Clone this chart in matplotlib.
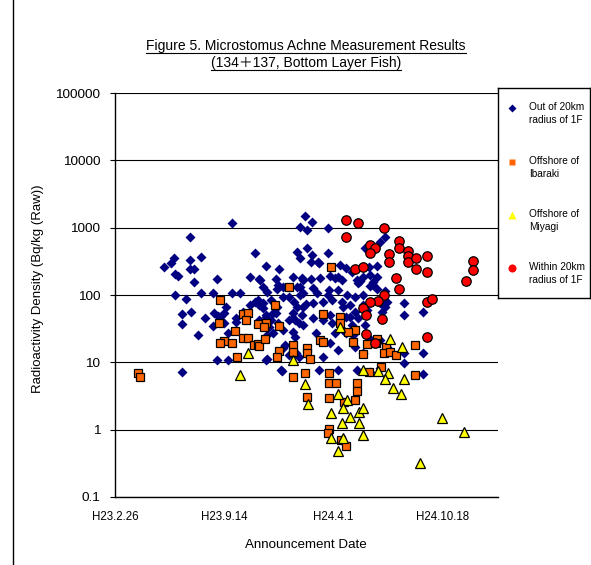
import numpy as np
import matplotlib
matplotlib.use('Agg')
import matplotlib.pyplot as plt
from matplotlib.lines import Line2D
from matplotlib.ticker import NullLocator

plt.rcParams['font.family'] = ['Liberation Sans', 'Noto Sans CJK JP', 'DejaVu Sans']

# ---------------- data ----------------
base_date = np.datetime64('2011-02-26')
tick_dates = ['2011-02-26', '2011-09-14', '2012-04-01', '2012-10-18']
tick_labels = ['H23.2.26', 'H23.9.14', 'H24.4.1', 'H24.10.18']
y_ticks = [0.1, 1, 10, 100, 1000, 10000, 100000]
y_tick_labels = ['0.1', '1', '10', '100', '1000', '10000', '100000']

series_names = ['Out of 20km\nradius of 1F', 'Offshore of\nIbaraki',
                'Offshore of\nMiyagi', 'Within 20km\nradius of 1F']

# Out of 20km radius of 1F (days after base date, Bq/kg)
out20_days = [89, 102, 108, 110, 115, 137, 137, 137, 144, 157, 144, 110, 130, 157, 139, 122, 122, 151, 122,
              186, 214, 179, 214, 228, 164, 179, 199, 193, 188, 199, 203, 206, 181, 221, 235, 248, 248, 256, 186, 206, 221,
              277, 305, 270, 297, 277, 301, 263, 334, 338, 334, 339, 325, 330, 336, 325, 308, 297, 290, 285, 279, 290,
              261, 263, 270, 276, 299, 330, 312, 318, 332, 307, 266, 294, 299, 279, 307, 325, 257, 270, 285, 318, 327,
              334, 294, 276, 318, 263, 281, 307, 325, 279, 336, 303, 339,
              347, 352, 361, 389, 352, 345, 345, 361, 358, 389, 372, 343, 358, 376, 394, 403, 345, 370, 389, 349, 363,
              380, 398, 343, 363, 381, 394, 345, 398, 367, 403, 374, 363, 392, 409, 339, 409, 394, 409, 381, 374, 409,
              412, 422, 434, 416, 453, 467, 445, 467, 473, 416, 431, 453, 418, 440, 422, 434, 418, 458, 485, 495, 465,
              480, 443, 480, 480, 425, 440, 453, 431, 445, 462, 458, 485, 489, 495, 529, 529, 564, 422, 436, 440, 464,
              454, 485, 498, 529, 529, 564, 564, 443, 467, 485, 495, 498, 473, 449]
out20_vals = [262, 300, 356, 206, 193, 731, 333, 245, 245, 369, 157, 101, 88, 108, 56, 53, 37, 25.7, 7.3,
              174, 1178, 108, 108, 108, 46, 35, 54, 47.5, 49, 39, 67, 27.5, 54, 46, 56, 72, 186, 423, 10.9, 10.9, 40,
              10.9, 7.5, 132, 124, 271, 245, 174, 438, 356, 132, 101, 54, 43, 39, 46, 94, 67, 54, 43, 25.7, 27.5,
              85, 72, 65, 47.5, 39, 24, 18.2, 13, 13.9, 16.5, 168, 174, 142, 112, 132, 186, 79, 77, 85, 94, 79,
              67, 54, 51, 43, 43, 34, 30, 28.4, 11.3, 12.1, 7.8, 1028,
              1497, 927, 1219, 993, 501, 168, 67, 395, 311, 423, 311, 180, 174, 180, 193, 180, 108, 108, 101, 74, 77,
              79, 85, 51, 46, 43, 51, 36, 39, 27.5, 27.5, 300, 128, 119, 119, 132, 186, 19.5, 15.4, 12.1, 7.8, 7.8,
              281, 253, 221, 168, 186, 199, 152, 137, 157, 79, 72, 72, 67, 56, 47.5, 36, 30, 501, 616, 731, 262,
              271, 168, 186, 124, 101, 94, 101, 47.5, 46, 60, 36, 77, 56, 67, 77, 51, 56, 27.5, 25.7, 17, 23.2,
              13.9, 21.6, 17, 13.9, 9.9, 13.9, 6.8, 7.8, 7.3, 8.3, 115, 79, 142, 162]

# Offshore of Ibaraki
ibaraki_days = [42, 46, 192, 190, 219, 199, 192, 214, 223, 235, 243, 254, 234, 243, 239, 261, 277, 272, 301, 261,
                263, 274, 301, 296, 325, 325, 325, 347, 352, 352, 356, 352, 319, 292, 396, 381, 412, 412, 440, 427,
                376, 381, 436, 480, 462, 478, 496, 493, 504, 515, 453, 549, 487, 464, 549, 391, 391, 405, 391, 440,
                420, 443, 443, 392, 389, 414, 422]
ibaraki_vals = [7.0, 6.1, 85, 39, 29.4, 20.9, 19.5, 19.5, 12.1, 23.2, 23.2, 18.2, 53, 54, 43, 37, 39, 34, 35, 18.9,
                17.6, 22.4, 14.9, 12.1, 18.2, 14.4, 6.1, 7.0, 16.5, 13.9, 11.3, 3.1, 132, 72, 262, 53, 47.5, 39, 30, 28.4,
                21.6, 20.2, 20.2, 22.4, 18.9, 19.5, 17, 13.9, 14.4, 13, 13.4, 18.2, 8.6, 7.3, 6.5, 7.0, 5.0, 5.0, 3.0, 2.8,
                2.6, 5.0, 3.8, 1.03, 0.90, 0.71, 0.58]

# Offshore of Miyagi
miyagi_days = [243, 228, 325, 347, 354, 411, 504, 526, 453, 482, 500, 495, 529, 509, 524, 409, 425, 418, 447, 453,
               396, 431, 416, 447, 453, 396, 418, 409, 599, 639, 558]
miyagi_vals = [13.9, 6.5, 10.9, 4.8, 2.4, 34, 22.4, 17, 7.8, 7.5, 7.0, 5.7, 5.7, 4.1, 3.4, 3.4, 2.8, 2.1, 1.85, 2.1,
               1.79, 1.56, 1.27, 1.27, 0.84, 0.76, 0.74, 0.49, 1.51, 0.93, 0.32]

# Within 20km radius of 1F
within20_days = [423, 445, 423, 493, 520, 520, 467, 475, 467, 502, 502, 537, 537, 537, 551, 551, 571, 571, 655, 655,
                 642, 515, 520, 493, 482, 467, 453, 460, 489, 440, 453, 571, 580, 460, 475, 571]
within20_vals = [1306, 1178, 731, 993, 637, 501, 556, 501, 423, 409, 311, 453, 382, 311, 356, 245, 382, 221, 322, 237,
                 162, 180, 124, 101, 82, 79, 65, 51, 44, 245, 262, 79, 88, 26.6, 19.5, 24]

# ---------------- figure ----------------
W, H = 591, 565
fig = plt.figure(figsize=(W / 100, H / 100), dpi=100)
fig.patch.set_facecolor('white')

ax = fig.add_axes([115 / W, 1 - 497 / H, (498 - 115) / W, (497 - 93) / H])


def to_dates(days):
    return base_date + np.array(days).astype('timedelta64[D]')


ax.plot(to_dates(out20_days), out20_vals, linestyle='none', marker='D', ms=4.6,
        color='#000080', mec='none', zorder=3, clip_on=False)
ax.plot(to_dates(ibaraki_days), ibaraki_vals, linestyle='none', marker='s', ms=6.0,
        mfc='#FF6600', mec='black', mew=0.9, zorder=4, clip_on=False)
ax.plot(to_dates(miyagi_days), miyagi_vals, linestyle='none', marker='^', ms=6.8,
        mfc='#FFFF00', mec='black', mew=0.9, zorder=5, clip_on=False)
ax.plot(to_dates(within20_days), within20_vals, linestyle='none', marker='o', ms=6.8,
        mfc='#FF0000', mec='black', mew=0.9, zorder=6, clip_on=False)

ax.set_yscale('log')
ax.set_ylim(0.1, 100000)
ax.set_xlim(base_date, base_date + np.timedelta64(701, 'D'))
ax.set_yticks(y_ticks)
ax.set_yticklabels(y_tick_labels)
ax.yaxis.set_minor_locator(NullLocator())
ax.set_xticks(np.array(tick_dates, dtype='datetime64[D]'))
ax.set_xticklabels(tick_labels)
ax.xaxis.set_minor_locator(NullLocator())

ax.grid(axis='y', color='black', lw=0.8)
ax.set_axisbelow(True)
for s in ['top', 'right']:
    ax.spines[s].set_visible(False)
for s in ['left', 'bottom']:
    ax.spines[s].set_linewidth(1.0)
    ax.spines[s].set_color('black')
ax.tick_params(axis='y', direction='out', length=3.6, width=0.8, pad=7, labelsize=9.7)
ax.tick_params(axis='x', length=0, pad=10, labelsize=8.3)

fig.text(306 / W, 1 - 545 / H, 'Announcement Date', ha='center', va='center', fontsize=9.6)
fig.text(38 / W, 1 - 289 / H, 'Radioactivity Density (Bq/kg (Raw))', rotation=90,
         ha='center', va='center', fontsize=9.5)

t1 = fig.text(306 / W, 1 - 46 / H, 'Figure 5. Microstomus Achne Measurement Results',
              ha='center', va='center', fontsize=10)
t2 = fig.text(306 / W, 1 - 63 / H, '(134＋137, Bottom Layer Fish)',
              ha='center', va='center', fontsize=10)

# outer frame line (left)
fig.add_artist(Line2D([12.5 / W, 12.5 / W], [0, 1], transform=fig.transFigure, color='black', lw=1.0))

# ---------------- legend box ----------------
lx0, ly0, lx1, ly1 = 498, 88, 590, 298
lax = fig.add_axes([lx0 / W, 1 - ly1 / H, (lx1 - lx0) / W, (ly1 - ly0) / H])
lax.set_xlim(0, lx1 - lx0)
lax.set_ylim(ly1 - ly0, 0)
lax.set_xticks([])
lax.set_yticks([])
for s in lax.spines.values():
    s.set_linewidth(1.0)
    s.set_color('black')
leg_styles = [dict(marker='D', ms=4.2, color='#000080', mec='none'),
              dict(marker='s', ms=5.0, color='#FF6600', mec='none'),
              dict(marker='^', ms=5.5, color='#FFFF00', mec='none'),
              dict(marker='o', ms=5.8, color='#FF0000', mec='none')]
leg_y = [20, 74, 127, 180]
for name, st, yy in zip(series_names, leg_styles, leg_y):
    lax.plot([14], [yy], linestyle='none', **st)
    lax.text(31, yy - 6, name, ha='left', va='top', fontsize=7.3, linespacing=1.35)

# ---------------- underline title ----------------
fig.canvas.draw()
r = fig.canvas.get_renderer()
for t in (t1, t2):
    bb = t.get_window_extent(r)
    yl = (bb.y0 + 0.5) / H
    fig.add_artist(Line2D([bb.x0 / W, bb.x1 / W], [yl, yl], transform=fig.transFigure,
                          color='black', lw=0.8))

fig.savefig('out.png', dpi=100)
